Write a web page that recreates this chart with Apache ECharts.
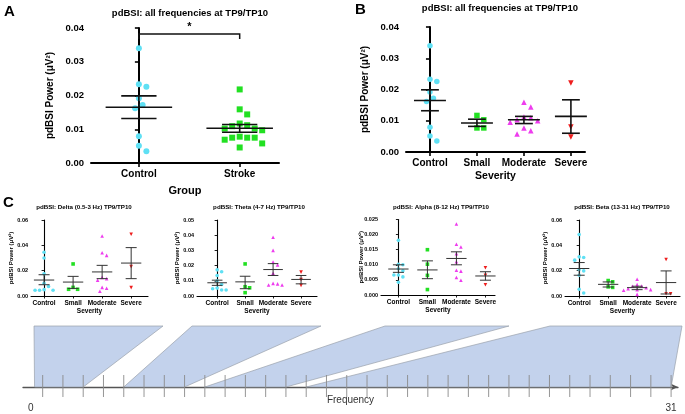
<!DOCTYPE html>
<html>
<head>
<meta charset="utf-8">
<script src="https://cdn.jsdelivr.net/npm/echarts@6/dist/echarts.min.js"></script>
<style>
  html, body { margin: 0; padding: 0; background: #fff; }
  #chart { width: 685px; height: 414px; }
</style>
</head>
<body>
<div id="chart"></div>
<script>
// ---- categories ----
const groupCats = ['Control', 'Stroke'];
const severityCats = ['Control', 'Small', 'Moderate', 'Severe'];

// ---- A: all frequencies, control vs stroke ----
const controlAll = [0.0340, 0.0226, 0.0233, 0.0192, 0.0162, 0.0172, 0.0079, 0.0051, 0.0035];
const strokeAll = [0.0218, 0.0159, 0.0144, 0.0117, 0.0109, 0.0112, 0.0097, 0.0102, 0.0102,
  0.0078, 0.0075, 0.0069, 0.0075, 0.0075, 0.0058, 0.0046];
const groupMean = [0.0165, 0.0103];
const groupSemLo = [0.0132, 0.0091];
const groupSemHi = [0.0199, 0.0114];
// significance bracket: from category, to category, level
const sigFrom = [0];
const sigTo = [1];
const sigLevel = [0.0382];

// ---- B: all frequencies by severity ----
const smallAll = [0.0117, 0.0103, 0.0077, 0.0077];
const moderateAll = [0.0159, 0.0144, 0.0112, 0.0110, 0.0103, 0.0100, 0.0095, 0.0077, 0.0068, 0.0058];
const severeAll = [0.0221, 0.0080, 0.0048];
const severityMean = [0.0165, 0.0093, 0.0103, 0.0114];
const severitySemLo = [0.0132, 0.0082, 0.0091, 0.0060];
const severitySemHi = [0.0199, 0.0105, 0.0114, 0.0167];

// ---- C: per band, groups = Control, Small, Moderate, Severe ----
const deltaPts = [
  [0.0345, 0.0300, 0.0175, 0.0100, 0.0075, 0.0050, 0.0045, 0.0045, 0.0045],
  [0.0253, 0.0068, 0.0053, 0.0053],
  [0.0474, 0.0342, 0.0321, 0.0147, 0.0137, 0.0125, 0.0068, 0.0061, 0.0037],
  [0.0487, 0.0232, 0.0066]
];
const deltaMean = [0.0126, 0.0110, 0.0190, 0.0260];
const deltaSemLo = [0.0089, 0.0060, 0.0137, 0.0137];
const deltaSemHi = [0.0168, 0.0155, 0.0242, 0.0382];

const thetaPts = [
  [0.0172, 0.0160, 0.0135, 0.0100, 0.0076, 0.0052, 0.0048, 0.0039, 0.0039],
  [0.0211, 0.0061, 0.0054, 0.0022],
  [0.0387, 0.0300, 0.0224, 0.0205, 0.0150, 0.0083, 0.0080, 0.0072, 0.0072],
  [0.0157, 0.0109, 0.0070]
];
const thetaMean = [0.0087, 0.0093, 0.0174, 0.0109];
const thetaSemLo = [0.0070, 0.0048, 0.0135, 0.0080];
const thetaSemHi = [0.0104, 0.0130, 0.0213, 0.0135];

const alphaPts = [
  [0.0181, 0.0102, 0.0100, 0.0087, 0.0080, 0.0066, 0.0066, 0.0060, 0.0042],
  [0.0150, 0.0102, 0.0065, 0.0018],
  [0.0235, 0.0168, 0.0159, 0.0137, 0.0110, 0.0082, 0.0079, 0.0058, 0.0049],
  [0.0090, 0.0065, 0.0034]
];
const alphaMean = [0.0086, 0.0083, 0.0121, 0.0063];
const alphaSemLo = [0.0075, 0.0054, 0.0100, 0.0049];
const alphaSemHi = [0.0100, 0.0113, 0.0143, 0.0077];

const betaPts = [
  [0.0486, 0.0309, 0.0304, 0.0283, 0.0209, 0.0198, 0.0164, 0.0053, 0.0024],
  [0.0122, 0.0112, 0.0072, 0.0068],
  [0.0132, 0.0090, 0.0079, 0.0077, 0.0065, 0.0058, 0.0050, 0.0050, 0.0045, 0.0013],
  [0.0288, 0.0018, 0.0018]
];
const betaMean = [0.0217, 0.0092, 0.0066, 0.0106];
const betaSemLo = [0.0164, 0.0071, 0.0050, 0.0016];
const betaSemHi = [0.0264, 0.0111, 0.0077, 0.0198];

// ---- frequency strip ----
const bandTitles = ['pdBSI: Delta (0.5-3 Hz) TP9/TP10', 'pdBSI: Theta (4-7 Hz) TP9/TP10',
  'pdBSI: Alpha (8-12 Hz) TP9/TP10', 'pdBSI: Beta (13-31 Hz) TP9/TP10'];
const bandFrom = [-0.4, 4, 8, 13];
const bandTo = [2, 7, 12, 31];
const freqTicks = [0, 1, 2, 3, 4, 5, 6, 7, 8, 9, 10, 11, 12, 13, 14, 15,
  16, 17, 18, 19, 20, 21, 22, 23, 24, 25, 26, 27, 28, 29, 30, 31];
const freqLabels = [0, 31];

// ---- look ----
const FONT = "'Liberation Sans', Arial, Helvetica, sans-serif";
const colors = ['#5fe0f4', '#22e022', '#ee3cee', '#ee1d1d'];
const symbols = ['circle', 'rect', 'triangle', 'triangle'];
const rotations = [0, 0, 0, 180];
const yName = 'pdBSI Power (\u03bcV\u00b2)';

const big = {
  tickFs: 9.5, catFs: 10, nameFs: 10, xNameFs: 11, axisW: 2, tickLen: 4,
  yLabelMargin: 7, xLabelMargin: 6, yNameGap: 36, xNameGap: 22,
  sym: 6, errW: 1.6, errColor: '#111', meanW: 0.66, capW: 0.35
};
const mid = Object.assign({}, big, { xNameFs: 10.5, xNameGap: 19, sym: 5.5, meanW: 0.68, capW: 0.38 });
const small = {
  tickFs: 5.5, catFs: 6.5, nameFs: 6, xNameFs: 6.5, axisW: 1.1, tickLen: 2.5,
  yLabelMargin: 3, xLabelMargin: 3.5, yNameGap: 17, xNameGap: 12,
  sym: 3.6, errW: 1, errColor: '#333', meanW: 0.7, capW: 0.38
};

// ---- panel layout ----
const panels = [
  { grid: { left: 91, top: 28, width: 188, height: 135 }, xRange: [-0.475, 1.39], cats: groupCats,
    pts: [controlAll, strokeAll], mean: groupMean, lo: groupSemLo, hi: groupSemHi,
    yMax: 0.04, yStep: 0.01, dec: 2, xName: 'Group', s: big },
  { grid: { left: 406, top: 27, width: 179, height: 125 }, xRange: [-0.51, 3.30], cats: severityCats,
    pts: [controlAll, smallAll, moderateAll, severeAll], mean: severityMean, lo: severitySemLo, hi: severitySemHi,
    yMax: 0.04, yStep: 0.01, dec: 2, xName: 'Severity', s: mid },
  { grid: { left: 31, top: 220, width: 117, height: 76 }, xRange: [-0.45, 3.58], cats: severityCats,
    pts: deltaPts, mean: deltaMean, lo: deltaSemLo, hi: deltaSemHi,
    yMax: 0.06, yStep: 0.02, dec: 2, xName: 'Severity', s: small },
  { grid: { left: 197, top: 220, width: 120, height: 76 }, xRange: [-0.72, 3.57], cats: severityCats,
    pts: thetaPts, mean: thetaMean, lo: thetaSemLo, hi: thetaSemHi,
    yMax: 0.05, yStep: 0.01, dec: 2, xName: 'Severity', s: small },
  { grid: { left: 381, top: 219.5, width: 114, height: 75.5 }, xRange: [-0.6, 3.33], cats: severityCats,
    pts: alphaPts, mean: alphaMean, lo: alphaSemLo, hi: alphaSemHi,
    yMax: 0.025, yStep: 0.005, dec: 3, xName: 'Severity', s: small },
  { grid: { left: 565, top: 220, width: 115, height: 76 }, xRange: [-0.49, 3.48], cats: severityCats,
    pts: betaPts, mean: betaMean, lo: betaSemLo, hi: betaSemHi,
    yMax: 0.06, yStep: 0.02, dec: 2, xName: 'Severity', s: small }
];
// where each blue fan meets the panel row (pixels)
const fanTop = [[34, 163], [192, 321], [385, 509], [550, 682]];
const bandTitleX = [84, 259, 441, 622];

// simple beeswarm: horizontal offsets (category units) so dots do not overlap
function swarm(values, pxY, pxX, d) {
  const order = values.map((v, i) => i).sort((a, b) => values[b] - values[a]);
  const placed = [];
  const out = [];
  order.forEach(i => {
    const y = values[i] * pxY;
    let dx = 0;
    for (let k = 0; k < 40; k++) {
      const cand = k === 0 ? 0 : (k % 2 ? 1 : -1) * Math.ceil(k / 2) * d * 0.5;
      if (placed.every(p => Math.hypot(p[0] - cand, p[1] - y) >= d)) { dx = cand; break; }
    }
    placed.push([dx, y]);
    out[i] = dx / pxX;
  });
  return out;
}

// mean line + SEM whiskers
function errRender(s) {
  return function (params, api) {
    const x = api.value(0);
    const c = api.coord([x, api.value(1)]);
    const unit = api.coord([x + 1, api.value(1)])[0] - c[0];
    const yl = api.coord([x, api.value(2)])[1];
    const yh = api.coord([x, api.value(3)])[1];
    const half = unit * s.meanW / 2, cap = unit * s.capW / 2;
    const st = { stroke: s.errColor, lineWidth: s.errW };
    return {
      type: 'group',
      children: [
        { type: 'line', shape: { x1: c[0] - half, y1: c[1], x2: c[0] + half, y2: c[1] }, style: st },
        { type: 'line', shape: { x1: c[0], y1: yh, x2: c[0], y2: yl }, style: st },
        { type: 'line', shape: { x1: c[0] - cap, y1: yh, x2: c[0] + cap, y2: yh }, style: st },
        { type: 'line', shape: { x1: c[0] - cap, y1: yl, x2: c[0] + cap, y2: yl }, style: st }
      ]
    };
  };
}

const grid = [], xAxis = [], yAxis = [], series = [];

panels.forEach((p, i) => {
  const s = p.s;
  const catIdx = p.cats.map((c, k) => k);
  grid.push(Object.assign({ outerBoundsMode: 'none', containLabel: false }, p.grid));
  xAxis.push({
    type: 'value', gridIndex: i, min: p.xRange[0], max: p.xRange[1],
    splitLine: { show: false },
    axisLine: { show: true, onZero: false, lineStyle: { color: '#000', width: s.axisW } },
    axisTick: { show: true, customValues: catIdx, length: s.tickLen, lineStyle: { color: '#000', width: s.axisW * 0.8 } },
    axisLabel: {
      customValues: catIdx, formatter: v => p.cats[Math.round(v)],
      margin: s.xLabelMargin, fontSize: s.catFs, fontWeight: 'bold', color: '#000', fontFamily: FONT
    },
    name: p.xName, nameLocation: 'middle', nameGap: s.xNameGap, nameMoveOverlap: false,
    nameTextStyle: { fontSize: s.xNameFs, fontWeight: 'bold', color: '#000', fontFamily: FONT }
  });
  yAxis.push({
    type: 'value', gridIndex: i, min: 0, max: p.yMax, interval: p.yStep,
    splitLine: { show: false },
    axisLine: { show: true, lineStyle: { color: '#000', width: s.axisW } },
    axisTick: { show: true, length: s.tickLen, lineStyle: { color: '#000', width: s.axisW * 0.8 } },
    axisLabel: {
      formatter: v => v.toFixed(p.dec), margin: s.yLabelMargin,
      fontSize: s.tickFs, fontWeight: 'bold', color: '#000', fontFamily: FONT
    },
    name: yName, nameLocation: 'middle', nameGap: s.yNameGap, nameRotate: 90, nameMoveOverlap: false,
    nameTextStyle: { fontSize: s.nameFs, fontWeight: 'bold', color: '#000', fontFamily: FONT }
  });

  const pxY = p.grid.height / p.yMax;
  const pxX = p.grid.width / (p.xRange[1] - p.xRange[0]);
  p.pts.forEach((vals, g) => {
    const offs = swarm(vals, pxY, pxX, s.sym * 1.25);
    series.push({
      type: 'scatter', xAxisIndex: i, yAxisIndex: i, silent: true, z: 2,
      symbol: symbols[g], symbolRotate: rotations[g], symbolSize: s.sym,
      itemStyle: { color: colors[g], opacity: 1 },
      data: vals.map((v, k) => [g + offs[k], v])
    });
  });
  series.push({
    type: 'custom', xAxisIndex: i, yAxisIndex: i, silent: true, z: 3,
    renderItem: errRender(s), encode: { x: 0, y: 1 },
    data: p.mean.map((m, k) => [k, m, p.lo[k], p.hi[k]])
  });
});

// significance bracket on panel A
series.push({
  type: 'custom', xAxisIndex: 0, yAxisIndex: 0, silent: true, z: 3,
  encode: { x: 0, y: 2 },
  data: sigFrom.map((f, k) => [f, sigTo[k], sigLevel[k]]),
  renderItem: function (params, api) {
    const a = api.coord([api.value(0), api.value(2)]);
    const b = api.coord([api.value(1), api.value(2)]);
    return {
      type: 'group',
      children: [
        { type: 'polyline', shape: { points: [[a[0], a[1] + 5], a, b, [b[0], b[1] + 5]] },
          style: { stroke: '#111', lineWidth: 1.5, fill: 'none' } },
        { type: 'text', style: { x: (a[0] + b[0]) / 2, y: a[1] - 2, text: '*', align: 'center', verticalAlign: 'bottom',
          fontSize: 11, fontWeight: 'bold', fill: '#000', fontFamily: FONT } }
      ]
    };
  }
});

// frequency strip
const fi = panels.length;
grid.push({ left: 23, top: 326, width: 655, height: 61, outerBoundsMode: 'none', containLabel: false });
xAxis.push({
  type: 'value', gridIndex: fi, min: -0.97, max: 31.34,
  splitLine: { show: false },
  axisLine: { show: true, onZero: false, symbol: ['none', 'arrow'], symbolSize: [5, 7],
    lineStyle: { color: '#555', width: 1.3 } },
  axisTick: { show: false },
  axisLabel: {
    customValues: freqLabels, margin: 16,
    formatter: v => (v === 0 ? '{z|0}' : '{n|' + v + '}'),
    rich: { z: { padding: [0, 24, 0, 0], fontSize: 10, color: '#333', fontFamily: FONT },
      n: { fontSize: 10, color: '#333', fontFamily: FONT } }
  },
  name: 'Frequency', nameLocation: 'middle', nameGap: 8, nameMoveOverlap: false,
  nameTextStyle: { fontSize: 10, color: '#333', fontFamily: FONT }
});
yAxis.push({ type: 'value', gridIndex: fi, min: 0, max: 1, show: false });

series.push({
  type: 'custom', xAxisIndex: fi, yAxisIndex: fi, silent: true, z: 1,
  encode: { x: [0, 1] },
  data: bandFrom.map((f, k) => [f, bandTo[k], k]),
  renderItem: function (params, api) {
    const k = api.value(2);
    const b0 = api.coord([api.value(0), 0]);
    const b1 = api.coord([api.value(1), 0]);
    const top = api.coord([api.value(0), 1])[1];
    return {
      type: 'polygon',
      shape: { points: [[fanTop[k][0], top], [fanTop[k][1], top], b1, b0] },
      style: { fill: '#c3d2ec', stroke: '#9aa0aa', lineWidth: 0.7 }
    };
  }
});
series.push({
  type: 'custom', xAxisIndex: fi, yAxisIndex: fi, silent: true, z: 2,
  encode: { x: 0 },
  data: freqTicks.map(t => [t]),
  renderItem: function (params, api) {
    const p = api.coord([api.value(0), 0]);
    return {
      type: 'line',
      shape: { x1: p[0], y1: p[1] - 12, x2: p[0], y2: p[1] + 10 },
      style: { stroke: '#8a8a8a', lineWidth: 0.9 }
    };
  }
});

// titles and panel letters
function label(text, x, y, fs, align) {
  return { type: 'text', x: x, y: y, silent: true,
    style: { text: text, fontSize: fs, fontWeight: 'bold', fill: '#000', fontFamily: FONT,
      align: align || 'center', verticalAlign: 'middle' } };
}
const graphic = [
  label('A', 4, 12, 15, 'left'),
  label('B', 355, 10, 15, 'left'),
  label('C', 3, 203, 15, 'left'),
  label('pdBSI: all frequencies at TP9/TP10', 190, 13, 9.5),
  label('pdBSI: all frequencies at TP9/TP10', 500, 8, 9.5)
];
bandTitles.forEach((t, k) => graphic.push(label(t, bandTitleX[k], 207, 6.2)));

const chart = echarts.init(document.getElementById('chart'));
chart.setOption({
  animation: false,
  backgroundColor: '#fff',
  grid: grid,
  xAxis: xAxis,
  yAxis: yAxis,
  series: series,
  graphic: graphic
});
</script>
</body>
</html>
